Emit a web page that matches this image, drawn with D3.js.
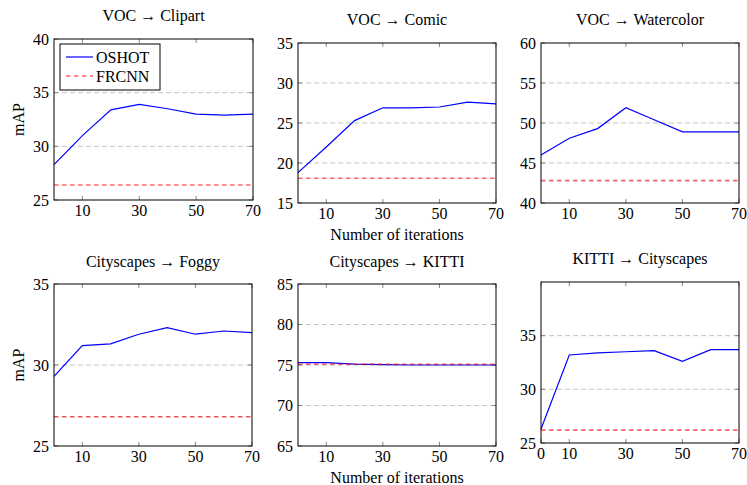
<!DOCTYPE html>
<html><head><meta charset="utf-8">
<script src="https://cdn.jsdelivr.net/npm/d3@7"></script>
<style>
body{margin:0;background:#fff;}
text{font-family:"Liberation Serif","Times New Roman",serif;fill:#000;}
</style></head>
<body>
<svg id="c" width="747" height="485"></svg>
<script>
// ---- data ----
const iterations = [0, 10, 20, 30, 40, 50, 60, 70];
const titles = ["VOC \u2192 Clipart", "VOC \u2192 Comic", "VOC \u2192 Watercolor",
                "Cityscapes \u2192 Foggy", "Cityscapes \u2192 KITTI", "KITTI \u2192 Cityscapes"];
const oshotClipart    = [28.3, 31.0, 33.4, 33.9, 33.5, 33.0, 32.9, 33.0];
const oshotComic      = [18.8, 22.0, 25.3, 26.9, 26.9, 27.0, 27.6, 27.4];
const oshotWatercolor = [46.0, 48.1, 49.3, 51.9, 50.4, 48.9, 48.9, 48.9];
const oshotFoggy      = [29.3, 31.2, 31.3, 31.9, 32.3, 31.9, 32.1, 32.0];
const oshotKitti      = [75.3, 75.3, 75.1, 75.05, 75.0, 75.0, 75.0, 75.0];
const oshotCityscapes = [26.3, 33.2, 33.4, 33.5, 33.6, 32.6, 33.7, 33.7];
const frcnn = [26.4, 18.1, 42.8, 26.8, 75.1, 26.2];
const yDomains = [[25, 40], [15, 35], [40, 60], [25, 35], [65, 85], [25, 40]];
const yTicks = [[25, 30, 35, 40], [15, 20, 25, 30, 35], [40, 45, 50, 55, 60],
                [25, 30, 35], [65, 70, 75, 80, 85], [25, 30, 35]];
const xTicks = [[10, 30, 50, 70], [10, 30, 50, 70], [10, 30, 50, 70],
                [10, 30, 50, 70], [10, 30, 50, 70], [0, 10, 30, 50, 70]];
const oshot = [oshotClipart, oshotComic, oshotWatercolor, oshotFoggy, oshotKitti, oshotCityscapes];
const legendLabels = ["OSHOT", "FRCNN"];

// ---- layout ----
const layout = [
  {l: 54,  r: 253, t: 39,  b: 200, ty: 21},
  {l: 298, r: 496, t: 43,  b: 203, ty: 25},
  {l: 541, r: 739, t: 43,  b: 203, ty: 25},
  {l: 54,  r: 252, t: 284, b: 446, ty: 267},
  {l: 298, r: 496, t: 284, b: 446, ty: 267},
  {l: 541, r: 739, t: 282, b: 443, ty: 264}
];
const FS = 16;
const svg = d3.select("#c");

layout.forEach((L, i) => {
  const x = d3.scaleLinear().domain([0, 70]).range([L.l, L.r]);
  const y = d3.scaleLinear().domain(yDomains[i]).range([L.b, L.t]);
  const g = svg.append("g");
  const [y0, y1] = yDomains[i];

  // grid
  g.selectAll(".grid").data(yTicks[i].filter(v => v > y0 && v < y1)).enter()
    .append("line").attr("x1", L.l).attr("x2", L.r)
    .attr("y1", d => y(d)).attr("y2", d => y(d))
    .attr("stroke", "#c4c4c4").attr("stroke-width", 1).attr("stroke-dasharray", "5,3");

  // tick marks (inward, all four sides)
  const tk = 4;
  xTicks[i].forEach(v => {
    g.append("line").attr("x1", x(v)).attr("x2", x(v)).attr("y1", L.b).attr("y2", L.b - tk)
      .attr("stroke", "#888").attr("stroke-width", 1);
    g.append("line").attr("x1", x(v)).attr("x2", x(v)).attr("y1", L.t).attr("y2", L.t + tk)
      .attr("stroke", "#888").attr("stroke-width", 1);
  });
  yTicks[i].forEach(v => {
    g.append("line").attr("x1", L.l).attr("x2", L.l + tk).attr("y1", y(v)).attr("y2", y(v))
      .attr("stroke", "#888").attr("stroke-width", 1);
    g.append("line").attr("x1", L.r).attr("x2", L.r - tk).attr("y1", y(v)).attr("y2", y(v))
      .attr("stroke", "#888").attr("stroke-width", 1);
  });

  // OSHOT line
  const line = d3.line().x((d, j) => x(iterations[j])).y(d => y(d));
  g.append("path").datum(oshot[i]).attr("d", line)
    .attr("fill", "none").attr("stroke", "#0000ff").attr("stroke-width", 1.2);

  // FRCNN baseline
  const fr = g.append("line").attr("x1", x(0)).attr("x2", x(70))
    .attr("y1", y(frcnn[i])).attr("y2", y(frcnn[i]));
  if (i === 3) {
    fr.attr("stroke", "#dd0000").attr("stroke-width", 1).attr("stroke-dasharray", "4.5,3.5");
  } else {
    fr.attr("stroke", "#ff0000").attr("stroke-opacity", 0.6).attr("stroke-width", 1.6)
      .attr("stroke-dasharray", "4.5,3.5");
  }

  // frame
  g.append("rect").attr("x", L.l).attr("y", L.t).attr("width", L.r - L.l).attr("height", L.b - L.t)
    .attr("fill", "none").attr("stroke", "#000").attr("stroke-width", 1);

  // tick labels
  g.selectAll(".yl").data(yTicks[i]).enter().append("text")
    .attr("x", L.l - 5).attr("y", d => y(d) + 5.5).attr("text-anchor", "end")
    .style("font-size", FS + "px").text(d => d);
  g.selectAll(".xl").data(xTicks[i]).enter().append("text")
    .attr("x", d => x(d)).attr("y", L.b + 16).attr("text-anchor", "middle")
    .style("font-size", FS + "px").text(d => d);

  // title
  g.append("text").attr("x", (L.l + L.r) / 2).attr("y", L.ty).attr("text-anchor", "middle")
    .style("font-size", FS + "px").text(titles[i]);

  if (i === 0 || i === 3) {
    g.append("text").attr("transform", `translate(24,${(L.t + L.b) / 2}) rotate(-90)`)
      .attr("text-anchor", "middle").style("font-size", FS + "px").text("mAP");
  }
  if (i === 1 || i === 4) {
    g.append("text").attr("x", (L.l + L.r) / 2).attr("y", L.b + 37).attr("text-anchor", "middle")
      .style("font-size", FS + "px").text("Number of iterations");
  }

  if (i === 0) {
    const lg = g.append("g");
    lg.append("rect").attr("x", 60).attr("y", 44).attr("width", 100).attr("height", 46)
      .attr("fill", "#fff").attr("stroke", "#000").attr("stroke-width", 1);
    lg.append("line").attr("x1", 66).attr("x2", 93).attr("y1", 57).attr("y2", 57)
      .attr("stroke", "#0000ff").attr("stroke-width", 1.2);
    lg.append("line").attr("x1", 66).attr("x2", 93).attr("y1", 76).attr("y2", 76)
      .attr("stroke", "#ff0000").attr("stroke-opacity", 0.6).attr("stroke-width", 1.6)
      .attr("stroke-dasharray", "4.5,3.5");
    lg.append("text").attr("x", 96).attr("y", 62.5).style("font-size", FS + "px").text(legendLabels[0]);
    lg.append("text").attr("x", 96).attr("y", 81.5).style("font-size", FS + "px").text(legendLabels[1]);
  }
});
</script>
</body></html>
